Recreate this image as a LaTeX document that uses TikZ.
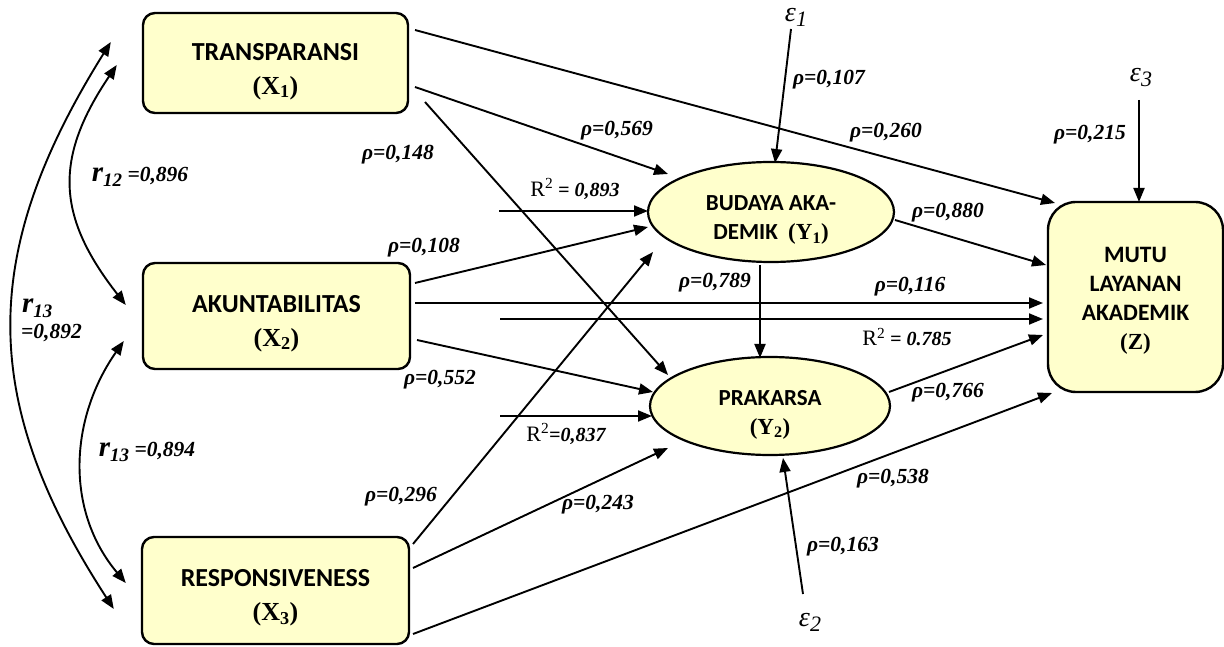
\documentclass[tikz,border=0pt]{standalone}
\usepackage{fontspec}
\setmainfont{Liberation Serif}
\newfontfamily\boxfont{Carlito}
\usetikzlibrary{arrows.meta,calc,shapes.geometric}
\definecolor{boxfill}{RGB}{255,255,204}
\newcommand\fsz[2]{\fontsize{#1}{#2}\selectfont}
\newcommand\vlab[2]{{\rmfamily\bfseries\fontsize{#1}{#1}\selectfont #2}}
\newcommand\topstrut[1]{\rule{0pt}{#1}}
\begin{document}
\begin{tikzpicture}[x=1pt,y=1pt,
  varbox/.style={draw, line width=2.4pt, fill=boxfill, rounded corners=12pt,
    align=center, inner sep=0pt, font=\boxfont\bfseries\fsz{26}{34}},
  latent/.style={ellipse, draw, line width=2.2pt, fill=boxfill, align=center,
    inner sep=0pt, font=\boxfont\bfseries\fsz{23}{29}},
  pathcoef/.style={line width=1.9pt, -{Triangle[length=14pt,width=11pt]}},
  corr/.style={line width=1.9pt, {Triangle[length=14pt,width=11pt]}-{Triangle[length=14pt,width=11pt]}},
  coef/.style={font=\bfseries\itshape\fsz{21.5}{24}, inner sep=0pt},
  lbl/.style={inner sep=0pt},
]
\useasboundingbox (0,0) rectangle (1224,646);

% exogenous variables
\node[varbox, minimum width=265pt, minimum height=100pt] (x1) at (275.5,583)
  {\topstrut{34pt}TRANSPARANSI\\\vlab{26}{(X\textsubscript{1})}};
\node[varbox, minimum width=267pt, minimum height=106pt] (x2) at (276.5,330)
  {\topstrut{32pt}AKUNTABILITAS\\\vlab{26}{(X\textsubscript{2})}};
\node[varbox, minimum width=267pt, minimum height=107pt] (x3) at (275.5,55.5)
  {\topstrut{32pt}RESPONSIVENESS\\\vlab{26}{(X\textsubscript{3})}};

% intervening variables
\node[latent, minimum width=246pt, minimum height=100pt] (y1) at (771,434)
  {\topstrut{31pt}BUDAYA AKA-\\DEMIK\ \ \vlab{23}{(Y\textsubscript{1})}};
\node[latent, minimum width=240pt, minimum height=98pt] (y2) at (770,240)
  {\topstrut{32pt}PRAKARSA\\\vlab{23}{(Y\textsubscript{2})}};

% outcome variable
\node[varbox, rounded corners=28pt, minimum width=175pt, minimum height=190pt,
  font=\boxfont\bfseries\fsz{23.5}{29}] (z) at (1135.5,349)
  {\topstrut{23pt}MUTU\\LAYANAN\\AKADEMIK\\\vlab{23}{(Z)}};

% residual terms
\node[lbl, font=\itshape\fsz{28}{30}] (e1) at (796,629) {ε\raisebox{-5pt}{\fsz{22}{24}1}};
\node[lbl, font=\itshape\fsz{28}{30}] (e3) at (1141,568) {ε\raisebox{-5pt}{\fsz{22}{24}3}};
\node[lbl, font=\itshape\fsz{28}{30}] (e2) at (810,24) {ε\raisebox{-5pt}{\fsz{22}{24}2}};
\coordinate (e1s) at (791,617);
\coordinate (e3s) at (1139,546);
\coordinate (e2s) at (803,52);

% free ends of the R-squared arrows
\coordinate (r1s) at (499,435);
\coordinate (r3s) at (500,327);
\coordinate (r2s) at (500,230);

% paths from X1
\draw[pathcoef] ($(x1.center)+(139.5,33)$) -- ($(z.center)+(-80.5,94)$);
\draw[pathcoef] ($(x1.center)+(139.5,-24)$) -- ($(y1.center)+(-103,38)$);
\draw[pathcoef] ($(x1.center)+(149.5,-39)$) -- ($(y2.center)+(-102,31)$);
% paths from X2
\draw[pathcoef] ($(x2.center)+(138.5,33)$) -- ($(y1.center)+(-123,-15)$);
\draw[pathcoef] ($(x2.center)+(138.5,13)$) -- ($(z.center)+(-92.5,-6)$);
\draw[pathcoef] ($(x2.center)+(140.5,-24)$) -- ($(y2.center)+(-117,14)$);
% paths from X3
\draw[pathcoef] ($(x3.center)+(137.5,46.5)$) -- ($(y1.center)+(-118,-40)$);
\draw[pathcoef] ($(x3.center)+(137.5,22.5)$) -- ($(y2.center)+(-102,-42)$);
\draw[pathcoef] ($(x3.center)+(137.5,-43.5)$) -- ($(z.center)+(-83.5,-96)$);
% paths between endogenous variables
\draw[pathcoef] ($(y1.center)+(124,-8)$) -- ($(z.center)+(-89.5,32)$);
\draw[pathcoef] ($(y1.center)+(-11,-53)$) -- ($(y2.center)+(-10,48)$);
\draw[pathcoef] ($(y2.center)+(119,14)$) -- ($(z.center)+(-92.5,-38)$);
% R-squared arrows
\draw[pathcoef] (r1s) -- ($(y1.center)+(-123,1)$);
\draw[pathcoef] (r3s) -- ($(z.center)+(-92.5,-22)$);
\draw[pathcoef] (r2s) -- ($(y2.center)+(-118,-10)$);
% residual arrows
\draw[pathcoef] (e1s) -- ($(y1.center)+(4,49)$);
\draw[pathcoef] (e3s) -- ($(z.center)+(3.5,95)$);
\draw[pathcoef] (e2s) -- ($(y2.center)+(13,-52)$);

% correlations between exogenous variables
\draw[corr] ($(x1.west)+(-31,21)$) to[out=238,in=123,looseness=1.12] ($(x3.west)+(-27,-18.5)$);
\draw[corr] ($(x1.west)+(-25,-2)$) to[out=236,in=128,looseness=1.2] ($(x2.west)+(-16,11)$);
\draw[corr] ($(x2.west)+(-18,-25)$) to[out=235,in=130] ($(x3.west)+(-15,7.5)$);

% coefficients
\node[coef] (c260) at (886,513) {ρ=0,260};
\node[coef] (c569) at (617,515) {ρ=0,569};
\node[coef] (c148) at (398,491) {ρ=0,148};
\node[coef] (c107) at (829,566) {ρ=0,107};
\node[coef] (c215) at (1090,511) {ρ=0,215};
\node[coef] (c108) at (424,398) {ρ=0,108};
\node[coef] (c880) at (948,433) {ρ=0,880};
\node[coef] (c789) at (715,363) {ρ=0,789};
\node[coef] (c116) at (910,359) {ρ=0,116};
\node[coef] (c552) at (440,266) {ρ=0,552};
\node[coef] (c766) at (948,253) {ρ=0,766};
\node[coef] (c296) at (401,149) {ρ=0,296};
\node[coef] (c243) at (598,141) {ρ=0,243};
\node[coef] (c538) at (893,167) {ρ=0,538};
\node[coef] (c163) at (843,99) {ρ=0,163};

% coefficients of determination
\node[lbl] (rsq1) at (575,457) {{\fsz{22}{24}R\textsuperscript{2}}{\bfseries\itshape\fsz{20}{22} = 0,893}};
\node[lbl] (rsq3) at (907,309) {{\fsz{22}{24}R\textsuperscript{2}}{\bfseries\itshape\fsz{20}{22} = 0.785}};
\node[lbl] (rsq2) at (566,212) {{\fsz{22}{24}R\textsuperscript{2}}{\bfseries\itshape\fsz{20}{22}=0,837}};

% correlation coefficients
\node[lbl] (r12) at (140,469) {{\bfseries\itshape\fsz{29}{30}r}{\bfseries\itshape\fsz{19}{20}\raisebox{-5pt}{12}}{\bfseries\itshape\fsz{21.5}{22} =0,896}};
\node[lbl, anchor=west] (r13a) at (22,338) {{\bfseries\itshape\fsz{29}{30}r}{\bfseries\itshape\fsz{19}{20}\raisebox{-5pt}{13}}};
\node[lbl, anchor=west] (r13b) at (21,313) {\bfseries\itshape\fsz{21.5}{22}=0,892};
\node[lbl] (r23) at (147,194) {{\bfseries\itshape\fsz{29}{30}r}{\bfseries\itshape\fsz{19}{20}\raisebox{-5pt}{13}}{\bfseries\itshape\fsz{21.5}{22} =0,894}};
\end{tikzpicture}
\end{document}
